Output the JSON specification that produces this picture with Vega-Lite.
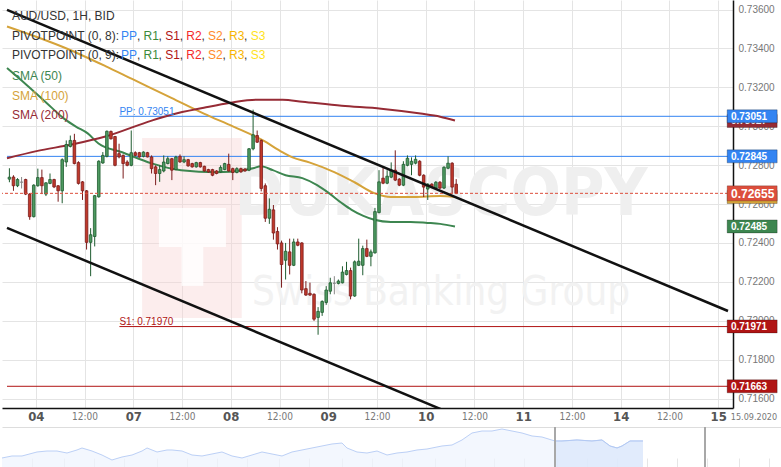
{
"$schema": "https://vega.github.io/schema/vega-lite/v6.json",
"padding": 0,
"background": "white",
"spacing": 19,
"bounds": "flush",
"config": {"view": {"stroke": null}, "font": "Liberation Sans"},
"datasets": {
"candles": [
{"t":-6.5,"o":0.72728,"h":0.72784,"l":0.72712,"c":0.72738},
{"t":-5.5,"o":0.72739,"h":0.72748,"l":0.72668,"c":0.72694},
{"t":-4.5,"o":0.72694,"h":0.72733,"l":0.72687,"c":0.72726},
{"t":-3.5,"o":0.72712,"h":0.72739,"l":0.7268,"c":0.72713},
{"t":-2.5,"o":0.72726,"h":0.7273,"l":0.72646,"c":0.72651},
{"t":-1.5,"o":0.72651,"h":0.72656,"l":0.72519,"c":0.72535},
{"t":-0.5,"o":0.72535,"h":0.72702,"l":0.72531,"c":0.72697},
{"t":0.5,"o":0.72694,"h":0.72782,"l":0.72689,"c":0.72736},
{"t":1.5,"o":0.72736,"h":0.72777,"l":0.72651,"c":0.72694},
{"t":2.5,"o":0.72651,"h":0.72712,"l":0.72641,"c":0.72709},
{"t":3.5,"o":0.72706,"h":0.72757,"l":0.72702,"c":0.72726},
{"t":4.5,"o":0.72726,"h":0.7273,"l":0.72682,"c":0.72688},
{"t":5.5,"o":0.72694,"h":0.72697,"l":0.72612,"c":0.72668},
{"t":6.5,"o":0.72668,"h":0.72835,"l":0.72604,"c":0.72828},
{"t":7.5,"o":0.72816,"h":0.72927,"l":0.72791,"c":0.72906},
{"t":8.5,"o":0.72896,"h":0.72952,"l":0.72891,"c":0.72927},
{"t":9.5,"o":0.72927,"h":0.72961,"l":0.72804,"c":0.72808},
{"t":10.5,"o":0.72813,"h":0.7282,"l":0.727,"c":0.72706},
{"t":11.5,"o":0.72714,"h":0.72718,"l":0.72621,"c":0.72668},
{"t":12.5,"o":0.72668,"h":0.72672,"l":0.72366,"c":0.72403},
{"t":13.5,"o":0.72403,"h":0.72476,"l":0.72229,"c":0.72442},
{"t":14.5,"o":0.72433,"h":0.72646,"l":0.72382,"c":0.72643},
{"t":15.5,"o":0.72637,"h":0.72825,"l":0.72633,"c":0.7282},
{"t":16.5,"o":0.72811,"h":0.72867,"l":0.72807,"c":0.7285},
{"t":17.5,"o":0.72845,"h":0.72978,"l":0.7284,"c":0.72974},
{"t":18.5,"o":0.72973,"h":0.72978,"l":0.72932,"c":0.72935},
{"t":19.5,"o":0.72947,"h":0.7295,"l":0.72794,"c":0.72799},
{"t":20.5,"o":0.72859,"h":0.7291,"l":0.72835,"c":0.72842},
{"t":21.5,"o":0.7285,"h":0.72855,"l":0.72731,"c":0.72808},
{"t":22.5,"o":0.72816,"h":0.72825,"l":0.72794,"c":0.72799},
{"t":23.5,"o":0.72799,"h":0.72978,"l":0.72794,"c":0.72864},
{"t":24.5,"o":0.72864,"h":0.72871,"l":0.72845,"c":0.7285},
{"t":25.5,"o":0.72864,"h":0.72868,"l":0.72838,"c":0.72842},
{"t":26.5,"o":0.72845,"h":0.72871,"l":0.7284,"c":0.72867},
{"t":27.5,"o":0.72864,"h":0.72868,"l":0.7284,"c":0.72842},
{"t":28.5,"o":0.72842,"h":0.7285,"l":0.72757,"c":0.72782},
{"t":29.5,"o":0.72791,"h":0.72799,"l":0.72697,"c":0.72757},
{"t":30.5,"o":0.72757,"h":0.72799,"l":0.72714,"c":0.72777},
{"t":31.5,"o":0.7277,"h":0.7285,"l":0.72763,"c":0.72816},
{"t":32.5,"o":0.72808,"h":0.72845,"l":0.72804,"c":0.72833},
{"t":33.5,"o":0.72833,"h":0.72837,"l":0.72723,"c":0.72774},
{"t":34.5,"o":0.72777,"h":0.72848,"l":0.72774,"c":0.72842},
{"t":35.5,"o":0.72845,"h":0.72855,"l":0.72812,"c":0.72816},
{"t":36.5,"o":0.72816,"h":0.72845,"l":0.7281,"c":0.72828},
{"t":37.5,"o":0.72828,"h":0.72832,"l":0.72792,"c":0.72796},
{"t":38.5,"o":0.72808,"h":0.72812,"l":0.72787,"c":0.72791},
{"t":39.5,"o":0.72791,"h":0.72817,"l":0.72787,"c":0.72813},
{"t":40.5,"o":0.72813,"h":0.72817,"l":0.72787,"c":0.72791},
{"t":41.5,"o":0.72794,"h":0.72797,"l":0.72766,"c":0.7277},
{"t":42.5,"o":0.72777,"h":0.72781,"l":0.72761,"c":0.72765},
{"t":43.5,"o":0.72777,"h":0.72781,"l":0.72743,"c":0.72748},
{"t":44.5,"o":0.7277,"h":0.72774,"l":0.72753,"c":0.72757},
{"t":45.5,"o":0.72765,"h":0.72799,"l":0.72761,"c":0.72788},
{"t":46.5,"o":0.72777,"h":0.72812,"l":0.72774,"c":0.72808},
{"t":47.5,"o":0.72804,"h":0.72859,"l":0.72766,"c":0.7277},
{"t":48.5,"o":0.72782,"h":0.72787,"l":0.72723,"c":0.72762},
{"t":49.5,"o":0.72762,"h":0.72789,"l":0.72758,"c":0.72782},
{"t":50.5,"o":0.72782,"h":0.72787,"l":0.72761,"c":0.72765},
{"t":51.5,"o":0.7278,"h":0.72784,"l":0.72766,"c":0.7277},
{"t":52.5,"o":0.72774,"h":0.72888,"l":0.72769,"c":0.72884},
{"t":53.5,"o":0.72884,"h":0.73085,"l":0.72876,"c":0.72956},
{"t":54.5,"o":0.72952,"h":0.72978,"l":0.72914,"c":0.72918},
{"t":55.5,"o":0.72927,"h":0.72932,"l":0.72665,"c":0.7268},
{"t":56.5,"o":0.72694,"h":0.72706,"l":0.72508,"c":0.72527},
{"t":57.5,"o":0.72527,"h":0.72629,"l":0.72498,"c":0.72573},
{"t":58.5,"o":0.7257,"h":0.72595,"l":0.72417,"c":0.72451},
{"t":59.5,"o":0.72459,"h":0.72481,"l":0.72366,"c":0.72395},
{"t":60.5,"o":0.724,"h":0.72412,"l":0.7217,"c":0.72289},
{"t":61.5,"o":0.72311,"h":0.724,"l":0.72212,"c":0.72357},
{"t":62.5,"o":0.72354,"h":0.72422,"l":0.72238,"c":0.72285},
{"t":63.5,"o":0.72285,"h":0.72422,"l":0.72281,"c":0.72405},
{"t":64.5,"o":0.72405,"h":0.72422,"l":0.72383,"c":0.72388},
{"t":65.5,"o":0.724,"h":0.72404,"l":0.72141,"c":0.72158},
{"t":66.5,"o":0.72165,"h":0.72204,"l":0.72128,"c":0.72132},
{"t":67.5,"o":0.72141,"h":0.72196,"l":0.72128,"c":0.72132},
{"t":68.5,"o":0.72136,"h":0.72141,"l":0.71999,"c":0.72008},
{"t":69.5,"o":0.72017,"h":0.7207,"l":0.71928,"c":0.72048},
{"t":70.5,"o":0.72043,"h":0.72105,"l":0.72025,"c":0.72099},
{"t":71.5,"o":0.72094,"h":0.72178,"l":0.72082,"c":0.72158},
{"t":72.5,"o":0.72152,"h":0.72221,"l":0.72136,"c":0.72195},
{"t":73.5,"o":0.72192,"h":0.72229,"l":0.72136,"c":0.72193},
{"t":74.5,"o":0.72192,"h":0.72212,"l":0.72187,"c":0.72204},
{"t":75.5,"o":0.72195,"h":0.7228,"l":0.72192,"c":0.7225},
{"t":76.5,"o":0.72238,"h":0.72303,"l":0.72233,"c":0.72258},
{"t":77.5,"o":0.72258,"h":0.72273,"l":0.7211,"c":0.72127},
{"t":78.5,"o":0.72127,"h":0.7231,"l":0.72123,"c":0.72303},
{"t":79.5,"o":0.72285,"h":0.72422,"l":0.72281,"c":0.72306},
{"t":80.5,"o":0.72285,"h":0.72386,"l":0.72234,"c":0.72371},
{"t":81.5,"o":0.72371,"h":0.72417,"l":0.72327,"c":0.72331},
{"t":82.5,"o":0.72331,"h":0.72366,"l":0.7228,"c":0.72354},
{"t":83.5,"o":0.72349,"h":0.7258,"l":0.72345,"c":0.72561},
{"t":84.5,"o":0.72556,"h":0.72774,"l":0.72552,"c":0.72714},
{"t":85.5,"o":0.72733,"h":0.72794,"l":0.72702,"c":0.72707},
{"t":86.5,"o":0.72707,"h":0.72774,"l":0.72702,"c":0.72743},
{"t":87.5,"o":0.72738,"h":0.72814,"l":0.72733,"c":0.72774},
{"t":88.5,"o":0.72774,"h":0.72876,"l":0.72718,"c":0.72723},
{"t":89.5,"o":0.72728,"h":0.72733,"l":0.72692,"c":0.72697},
{"t":90.5,"o":0.72697,"h":0.7282,"l":0.72692,"c":0.72804},
{"t":91.5,"o":0.72799,"h":0.7285,"l":0.72794,"c":0.72835},
{"t":92.5,"o":0.72804,"h":0.7284,"l":0.72748,"c":0.7282},
{"t":93.5,"o":0.7281,"h":0.7285,"l":0.72804,"c":0.7283},
{"t":94.5,"o":0.7282,"h":0.72825,"l":0.72743,"c":0.72748},
{"t":95.5,"o":0.72748,"h":0.72753,"l":0.72636,"c":0.72687},
{"t":96.5,"o":0.72677,"h":0.72707,"l":0.72621,"c":0.72702},
{"t":97.5,"o":0.72702,"h":0.72707,"l":0.72682,"c":0.72687},
{"t":98.5,"o":0.72682,"h":0.72718,"l":0.72677,"c":0.72712},
{"t":99.5,"o":0.72712,"h":0.72718,"l":0.72677,"c":0.72682},
{"t":100.5,"o":0.72682,"h":0.72794,"l":0.72677,"c":0.72789},
{"t":101.5,"o":0.72784,"h":0.72845,"l":0.72779,"c":0.7281},
{"t":102.5,"o":0.7281,"h":0.72815,"l":0.72656,"c":0.72687},
{"t":103.5,"o":0.72702,"h":0.72728,"l":0.72651,"c":0.72655}
],
"sma": [
{"kind":"SMA (50)","t":-7.09,"price":0.73299},{"kind":"SMA (50)","t":-2.25,"price":0.73212},{"kind":"SMA (50)","t":2.59,"price":0.73121},{"kind":"SMA (50)","t":6.96,"price":0.73039},{"kind":"SMA (50)","t":9.87,"price":0.72998},{"kind":"SMA (50)","t":12.78,"price":0.72963},{"kind":"SMA (50)","t":15.44,"price":0.72911},{"kind":"SMA (50)","t":21.26,"price":0.72866},{"kind":"SMA (50)","t":28.53,"price":0.72809},{"kind":"SMA (50)","t":35.78,"price":0.72774},{"kind":"SMA (50)","t":44.53,"price":0.72763},{"kind":"SMA (50)","t":51.08,"price":0.72774},{"kind":"SMA (50)","t":53.5,"price":0.72784},{"kind":"SMA (50)","t":55.44,"price":0.72794},{"kind":"SMA (50)","t":58.35,"price":0.72774},{"kind":"SMA (50)","t":61.5,"price":0.72748},{"kind":"SMA (50)","t":65.62,"price":0.72733},{"kind":"SMA (50)","t":69.26,"price":0.72697},{"kind":"SMA (50)","t":72.17,"price":0.72656},{"kind":"SMA (50)","t":75.32,"price":0.72605},{"kind":"SMA (50)","t":77.75,"price":0.7257},{"kind":"SMA (50)","t":80.65,"price":0.72539},{"kind":"SMA (50)","t":83.32,"price":0.72519},{"kind":"SMA (50)","t":87.44,"price":0.72508},{"kind":"SMA (50)","t":92.29,"price":0.72508},{"kind":"SMA (50)","t":96.41,"price":0.72503},{"kind":"SMA (50)","t":99.56,"price":0.72498},{"kind":"SMA (50)","t":103.2,"price":0.72485},
{"kind":"SMA (100)","t":-7.09,"price":0.73513},{"kind":"SMA (100)","t":7.44,"price":0.73401},{"kind":"SMA (100)","t":17.14,"price":0.73309},{"kind":"SMA (100)","t":23.7,"price":0.73243},{"kind":"SMA (100)","t":33.38,"price":0.73146},{"kind":"SMA (100)","t":41.38,"price":0.73065},{"kind":"SMA (100)","t":48.65,"price":0.72998},{"kind":"SMA (100)","t":55.93,"price":0.72927},{"kind":"SMA (100)","t":60.78,"price":0.72866},{"kind":"SMA (100)","t":63.2,"price":0.7284},{"kind":"SMA (100)","t":67.32,"price":0.72814},{"kind":"SMA (100)","t":73.62,"price":0.72763},{"kind":"SMA (100)","t":78.47,"price":0.72712},{"kind":"SMA (100)","t":83.32,"price":0.72656},{"kind":"SMA (100)","t":87.44,"price":0.72636},{"kind":"SMA (100)","t":93.02,"price":0.72636},{"kind":"SMA (100)","t":99.56,"price":0.72641},{"kind":"SMA (100)","t":103.2,"price":0.72636},
{"kind":"SMA (200)","t":-7.09,"price":0.72835},{"kind":"SMA (200)","t":0.17,"price":0.72872},{"kind":"SMA (200)","t":9.14,"price":0.72907},{"kind":"SMA (200)","t":17.14,"price":0.72947},{"kind":"SMA (200)","t":28.53,"price":0.73029},{"kind":"SMA (200)","t":33.38,"price":0.73059},{"kind":"SMA (200)","t":41.38,"price":0.73095},{"kind":"SMA (200)","t":47.93,"price":0.73121},{"kind":"SMA (200)","t":54.23,"price":0.73136},{"kind":"SMA (200)","t":60.78,"price":0.73136},{"kind":"SMA (200)","t":65.62,"price":0.73126},{"kind":"SMA (200)","t":75.32,"price":0.73105},{"kind":"SMA (200)","t":85.02,"price":0.7309},{"kind":"SMA (200)","t":94.72,"price":0.73065},{"kind":"SMA (200)","t":99.56,"price":0.73049},{"kind":"SMA (200)","t":103.2,"price":0.73029}
],
"channel": [
{"line":"upper","t":-7.09,"price":0.73598},{"line":"upper","t":170.42,"price":0.7205},
{"line":"lower","t":-7.09,"price":0.72477},{"line":"lower","t":170.42,"price":0.70929}
],
"levels": [
{"level":"PP","price":0.73051,"t":20.59,"kind":"PP"},
{"level":"PP prev","price":0.72845,"t":-7.09,"kind":"PP"},
{"level":"S1","price":0.7197,"t":20.59,"kind":"S1"},
{"level":"S1 prev","price":0.71663,"t":-7.09,"kind":"S1"}
],
"levelLabels": [
{"text":"PP: 0.73051","t":20.59,"price":0.730747,"kind":"PP"},
{"text":"S1: 0.71970","t":20.59,"price":0.71995,"kind":"S1"}
],
"tagsUnder": [
{"label":"0.73027","price":0.73027,"kind":"SMA (200)"},
{"label":"","price":0.72636,"kind":"SMA (100)"}
],
"tags": [
{"label":"0.73051","price":0.73051,"kind":"PP"},
{"label":"0.72845","price":0.72845,"kind":"PP"},
{"label":"0.72485","price":0.72485,"kind":"SMA (50)"},
{"label":"0.71971","price":0.71971,"kind":"S1"},
{"label":"0.71663","price":0.71663,"kind":"S1"}
],
"last": [{"label":"0.72655","price":0.72655,"kind":"Last"}],
"legend": [
{"text":"AUD/USD, 1H, BID","t":-5.877,"price":0.735682,"kind":"text"},
{"text":"PIVOTPOINT (0, 8):","t":-5.877,"price":0.734623,"kind":"text"},
{"text":"PP","t":21.005,"price":0.734623,"kind":"PP"},
{"text":",","t":24.891,"price":0.734623,"kind":"text"},
{"text":"R1","t":26.518,"price":0.734623,"kind":"R1"},
{"text":",","t":30.233,"price":0.734623,"kind":"text"},
{"text":"S1","t":31.86,"price":0.734623,"kind":"S1"},
{"text":",","t":35.43,"price":0.734623,"kind":"text"},
{"text":"R2","t":37.033,"price":0.734623,"kind":"R2"},
{"text":",","t":40.772,"price":0.734623,"kind":"text"},
{"text":"S2","t":42.375,"price":0.734623,"kind":"S2"},
{"text":",","t":45.945,"price":0.734623,"kind":"text"},
{"text":"R3","t":47.572,"price":0.734623,"kind":"R3"},
{"text":",","t":51.287,"price":0.734623,"kind":"text"},
{"text":"S3","t":52.914,"price":0.734623,"kind":"S3"},
{"text":"PIVOTPOINT (0, 9):","t":-5.877,"price":0.733661,"kind":"text"},
{"text":"PP","t":21.005,"price":0.733661,"kind":"PP"},
{"text":",","t":24.891,"price":0.733661,"kind":"text"},
{"text":"R1","t":26.518,"price":0.733661,"kind":"R1"},
{"text":",","t":30.233,"price":0.733661,"kind":"text"},
{"text":"S1","t":31.86,"price":0.733661,"kind":"S1"},
{"text":",","t":35.43,"price":0.733661,"kind":"text"},
{"text":"R2","t":37.033,"price":0.733661,"kind":"R2"},
{"text":",","t":40.772,"price":0.733661,"kind":"text"},
{"text":"S2","t":42.375,"price":0.733661,"kind":"S2"},
{"text":",","t":45.945,"price":0.733661,"kind":"text"},
{"text":"R3","t":47.572,"price":0.733661,"kind":"R3"},
{"text":",","t":51.287,"price":0.733661,"kind":"text"},
{"text":"S3","t":52.914,"price":0.733661,"kind":"S3"},
{"text":"SMA (50)","t":-5.877,"price":0.732582,"kind":"SMA (50)"},
{"text":"SMA (100)","t":-5.877,"price":0.731569,"kind":"SMA (100)"},
{"text":"SMA (200)","t":-5.877,"price":0.730577,"kind":"SMA (200)"}
],
"navigator": [
{"n":0,"v":0.5973},{"n":1.28,"v":0.6078},{"n":2.56,"v":0.6078},{"n":4.48,"v":0.6288},{"n":5.76,"v":0.634},{"n":7.04,"v":0.634},{"n":8.32,"v":0.6235},{"n":9.6,"v":0.6393},{"n":10.24,"v":0.6498},{"n":11.52,"v":0.634},{"n":12.8,"v":0.613},{"n":14.08,"v":0.5868},{"n":15.36,"v":0.6025},{"n":16.65,"v":0.613},{"n":17.93,"v":0.634},{"n":18.57,"v":0.6498},{"n":19.85,"v":0.6288},{"n":21.13,"v":0.6393},{"n":21.77,"v":0.6393},{"n":23.05,"v":0.634},{"n":24.33,"v":0.613},{"n":25.61,"v":0.6078},{"n":26.89,"v":0.6183},{"n":28.17,"v":0.6288},{"n":29.45,"v":0.6078},{"n":30.73,"v":0.5973},{"n":32.01,"v":0.613},{"n":33.29,"v":0.6288},{"n":34.57,"v":0.6183},{"n":35.85,"v":0.6078},{"n":37.13,"v":0.6288},{"n":38.41,"v":0.6393},{"n":39.69,"v":0.6498},{"n":40.97,"v":0.6603},{"n":42.25,"v":0.6708},{"n":43.53,"v":0.676},{"n":44.17,"v":0.6498},{"n":45.45,"v":0.6288},{"n":46.73,"v":0.6235},{"n":48.02,"v":0.634},{"n":49.3,"v":0.613},{"n":50.58,"v":0.6235},{"n":51.86,"v":0.6288},{"n":53.14,"v":0.6393},{"n":54.42,"v":0.6445},{"n":56.34,"v":0.6603},{"n":57.62,"v":0.6655},{"n":58.9,"v":0.6918},{"n":60.18,"v":0.7285},{"n":61.46,"v":0.739},{"n":62.74,"v":0.739},{"n":64.02,"v":0.7495},{"n":65.3,"v":0.739},{"n":66.58,"v":0.7285},{"n":67.86,"v":0.7128},{"n":69.14,"v":0.7075},{"n":70.81,"v":0.6865},{"n":71.7,"v":0.6865},{"n":73.62,"v":0.6918},{"n":75.54,"v":0.6865},{"n":76.82,"v":0.6918},{"n":77.85,"v":0.6603},{"n":78.75,"v":0.6498},{"n":79.39,"v":0.6603},{"n":80.41,"v":0.6865},{"n":82.07,"v":0.6865}
]
},
"vconcat": [
{
"width": 731,
"height": 408,
"layer": [
{
"data": {"values": [{}]},
"mark": {"type": "rect", "fill": "#f7d3d3", "opacity": 0.4},
"encoding": {
"x": {"datum": 26.18, "type": "quantitative"}, "x2": {"datum": 50.7},
"y": {"datum": 0.72939, "type": "quantitative"}, "y2": {"datum": 0.72014}
}
},
{
"data": {"values": [{}]},
"mark": {"type": "rect", "fill": "#ffffff", "opacity": 0.8},
"encoding": {
"x": {"datum": 30.31, "type": "quantitative"}, "x2": {"datum": 46.82},
"y": {"datum": 0.7258, "type": "quantitative"}, "y2": {"datum": 0.72379}
}
},
{
"data": {"values": [{}]},
"mark": {"type": "rect", "fill": "#ffffff", "opacity": 0.8},
"encoding": {
"x": {"datum": 35.89, "type": "quantitative"}, "x2": {"datum": 41.24},
"y": {"datum": 0.72379, "type": "quantitative"}, "y2": {"datum": 0.72179}
}
},
{
"data": {"values": [{"text": "DUKASCOPY"}]},
"mark": {"type": "text", "font": "Liberation Sans Narrow, DejaVu Sans Condensed, Liberation Sans, sans-serif", "fontWeight": "bold", "fontSize": 66, "fill": "#efefef", "align": "center", "baseline": "middle"},
"encoding": {
"x": {"datum": 99.76, "type": "quantitative"},
"y": {"datum": 0.72646, "type": "quantitative"},
"text": {"field": "text"}
}
},
{
"data": {"values": [{"text": "Swiss Banking Group"}]},
"mark": {"type": "text", "font": "Liberation Sans Narrow, DejaVu Sans Condensed, Liberation Sans, sans-serif", "fontSize": 40, "fill": "#f2f2f2", "align": "center", "baseline": "middle"},
"encoding": {
"x": {"datum": 99.76, "type": "quantitative"},
"y": {"datum": 0.72143, "type": "quantitative"},
"text": {"field": "text"}
}
},
{
"data": {"name": "levels"},
"mark": {"type": "rule", "strokeWidth": 1},
"encoding": {
"x": {"field": "t", "type": "quantitative"},
"x2": {"datum": 170.42},
"y": {"field": "price", "type": "quantitative"},
"color": {"field": "kind", "type": "nominal", "legend": null,
 "scale": {"domain": ["text","PP","R1","S1","R2","S2","R3","S3","SMA (50)","SMA (100)","SMA (200)","Last"],
           "range": ["#333333","#3384f2","#3a8a3a","#b01414","#f42a2a","#ff8a2b","#f8b500","#ffe31a","#3d8650","#d5a33a","#962b35","#dc4e3c"]}}
}
},
{
"data": {"name": "sma"},
"mark": {"type": "line", "strokeWidth": 2, "interpolate": "monotone"},
"encoding": {
"x": {"field": "t", "type": "quantitative",
 "scale": {"domain": [-7.09, 170.42], "nice": false, "zero": false},
 "axis": {"title": null, "values": [0,12,24,36,48,60,72,84,96,108,120,132,144,156,168],
  "labelExpr": "datum.value % 24 == 0 ? ['04','07','08','09','10','11','14','15'][datum.value/24] : '12:00'",
  "labelFont": "Liberation Sans Narrow, DejaVu Sans Condensed, Liberation Sans, sans-serif",
  "labelFontSize": {"condition": {"test": "datum.value % 24 == 0", "value": 13}, "value": 10},
  "labelFontWeight": {"condition": {"test": "datum.value % 24 == 0", "value": "bold"}, "value": "normal"},
  "labelColor": {"condition": {"test": "datum.value % 24 == 0", "value": "#555555"}, "value": "#777777"},
  "labelPadding": 8, "labelBaseline": "middle", "ticks": false, "tickSize": 0,
  "domainColor": "#111111", "domainWidth": 1.5, "grid": true, "gridColor": "#e4e4e4",
  "labelFlush": false, "labelOverlap": false}},
"y": {"field": "price", "type": "quantitative",
 "scale": {"domain": [0.715514, 0.736489], "nice": false, "zero": false},
 "axis": {"title": null, "orient": "right", "values": [0.716,0.718,0.72,0.722,0.724,0.726,0.728,0.73,0.732,0.734,0.736],
  "format": ".5f", "labelFontSize": 10, "labelColor": "#777777", "labelPadding": 5, "ticks": false, "tickSize": 0,
  "domainColor": "#111111", "domainWidth": 1.5, "grid": true, "gridColor": "#e4e4e4",
  "labelFlush": false, "labelOverlap": false}},
"color": {"field": "kind", "type": "nominal", "legend": null},
"detail": {"field": "kind"}
}
},
{
"data": {"name": "candles"},
"mark": {"type": "rule", "strokeWidth": 1},
"encoding": {
"x": {"field": "t", "type": "quantitative"},
"y": {"field": "l", "type": "quantitative"},
"y2": {"field": "h"},
"stroke": {"condition": [{"test": "abs(datum.c - datum.o) < 0.00002", "value": "#888888"}, {"test": "datum.c > datum.o", "value": "#1f5c30"}], "value": "#7b1c1c"}
}
},
{
"data": {"name": "candles"},
"mark": {"type": "bar", "size": 2.6, "strokeWidth": 0.8},
"encoding": {
"x": {"field": "t", "type": "quantitative"},
"y": {"field": "o", "type": "quantitative"},
"y2": {"field": "c"},
"fill": {"condition": [{"test": "abs(datum.c - datum.o) < 0.00002", "value": "#999999"}, {"test": "datum.c > datum.o", "value": "#4e9a61"}], "value": "#c0392b"},
"stroke": {"condition": [{"test": "abs(datum.c - datum.o) < 0.00002", "value": "#888888"}, {"test": "datum.c > datum.o", "value": "#1f5c30"}], "value": "#7b1c1c"}
}
},
{
"data": {"name": "last"},
"mark": {"type": "rule", "strokeWidth": 1, "strokeDash": [3, 2], "color": "#dc4e3c"},
"encoding": {
"y": {"field": "price", "type": "quantitative"}
}
},
{
"data": {"name": "channel"},
"mark": {"type": "line", "strokeWidth": 2.5, "color": "#111111", "clip": true},
"encoding": {
"x": {"field": "t", "type": "quantitative"},
"y": {"field": "price", "type": "quantitative"},
"detail": {"field": "line"}
}
},
{
"data": {"name": "levelLabels"},
"mark": {"type": "text", "fontSize": 10, "align": "left", "baseline": "middle"},
"encoding": {
"x": {"field": "t", "type": "quantitative"},
"y": {"field": "price", "type": "quantitative"},
"text": {"field": "text"},
"color": {"field": "kind", "type": "nominal", "legend": null}
}
},
{
"data": {"name": "legend"},
"mark": {"type": "text", "fontSize": 12, "align": "left", "baseline": "middle"},
"encoding": {
"x": {"field": "t", "type": "quantitative"},
"y": {"field": "price", "type": "quantitative"},
"text": {"field": "text"},
"color": {"field": "kind", "type": "nominal", "legend": null}
}
},
{
"data": {"name": "tagsUnder"},
"mark": {"type": "tick", "orient": "horizontal", "size": 50, "thickness": 13, "stroke": "#000000", "strokeOpacity": 0.25, "strokeWidth": 1, "opacity": 1},
"encoding": {
"x": {"datum": 176.37, "type": "quantitative"},
"y": {"field": "price", "type": "quantitative"},
"color": {"field": "kind", "type": "nominal", "legend": null}
}
},
{
"data": {"name": "tagsUnder"},
"mark": {"type": "text", "fontSize": 10, "fontWeight": "bold", "fill": "#ffffff", "align": "left", "baseline": "middle", "dy": 0.5},
"encoding": {
"x": {"datum": 171.15, "type": "quantitative"},
"y": {"field": "price", "type": "quantitative"},
"text": {"field": "label"}
}
},
{
"data": {"name": "tags"},
"mark": {"type": "tick", "orient": "horizontal", "size": 50, "thickness": 13, "stroke": "#000000", "strokeOpacity": 0.25, "strokeWidth": 1, "opacity": 1},
"encoding": {
"x": {"datum": 176.37, "type": "quantitative"},
"y": {"field": "price", "type": "quantitative"},
"color": {"field": "kind", "type": "nominal", "legend": null}
}
},
{
"data": {"name": "tags"},
"mark": {"type": "text", "fontSize": 10, "fontWeight": "bold", "fill": "#ffffff", "align": "left", "baseline": "middle", "dy": 0.5},
"encoding": {
"x": {"datum": 171.15, "type": "quantitative"},
"y": {"field": "price", "type": "quantitative"},
"text": {"field": "label"}
}
},
{
"data": {"name": "last"},
"mark": {"type": "tick", "orient": "horizontal", "size": 50, "thickness": 15, "stroke": "#000000", "strokeOpacity": 0.2, "strokeWidth": 1, "opacity": 1},
"encoding": {
"x": {"datum": 176.37, "type": "quantitative"},
"y": {"field": "price", "type": "quantitative"},
"color": {"field": "kind", "type": "nominal", "legend": null}
}
},
{
"data": {"name": "last"},
"mark": {"type": "text", "fontSize": 12, "fontWeight": "bold", "fill": "#ffffff", "align": "left", "baseline": "middle", "dy": 0.5},
"encoding": {
"x": {"datum": 171.15, "type": "quantitative"},
"y": {"field": "price", "type": "quantitative"},
"text": {"field": "label"}
}
},
{
"data": {"values": [{"text": "15.09.2020"}]},
"mark": {"type": "text", "font": "Liberation Sans Narrow, DejaVu Sans Condensed, Liberation Sans, sans-serif", "fontSize": 9, "fill": "#777777", "align": "left", "baseline": "middle"},
"encoding": {
"x": {"datum": 171.1, "type": "quantitative"},
"y": {"datum": 0.715051, "type": "quantitative"},
"text": {"field": "text"}
}
}
]
},
{
"width": 781,
"height": 40,
"data": {"name": "navigator"},
"resolve": {"axis": {"x": "independent"}},
"layer": [
{
"mark": {"type": "area", "color": "#eef3fd", "line": {"color": "#bcd0f6", "strokeWidth": 1}},
"encoding": {
"x": {"field": "n", "type": "quantitative", "scale": {"domain": [0, 100], "nice": false, "zero": false},
 "axis": {"orient": "top", "title": null, "labels": false, "ticks": false, "grid": false, "domainColor": "#dddddd", "domainWidth": 1}},
"y": {"field": "v", "type": "quantitative", "scale": {"domain": [0.55, 0.76], "nice": false, "zero": false}, "axis": null},
"y2": {"datum": 0.55}
}
},
{
"transform": [{"filter": "datum.n >= 70.8"}],
"mark": {"type": "area", "color": "#d9e5fb", "line": {"color": "#b3c9f3", "strokeWidth": 1}},
"encoding": {
"x": {"field": "n", "type": "quantitative", "axis": null},
"y": {"field": "v", "type": "quantitative"},
"y2": {"datum": 0.55}
}
},
{
"data": {"values": [{"n": 70.81}, {"n": 90.01}]},
"mark": {"type": "rule", "color": "#a8a8a8", "strokeWidth": 2},
"encoding": {
"x": {"field": "n", "type": "quantitative",
 "axis": {"orient": "bottom", "title": null, "labels": false, "domain": false, "ticks": true, "tickSize": 9, "tickColor": "#e6e6e6", "offset": -9, "grid": false,
  "values": [3.84, 7.94, 11.84, 15.68, 19.85, 23.69, 27.53, 31.37, 35.53, 39.37, 43.53, 47.38, 51.22, 55.38, 59.22, 63.06, 66.9, 71.06, 74.9, 78.75, 82.59, 86.43, 90.27, 94.43, 98.27]}}
}
}
]
}
]
}
